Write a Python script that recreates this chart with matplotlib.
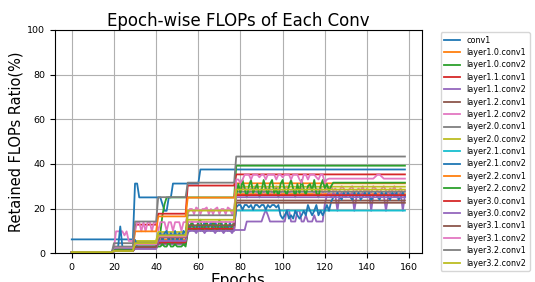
import matplotlib
matplotlib.use("Agg")
import matplotlib.pyplot as plt

# ---------------------------------------------------------------------
# Data: retained FLOPs ratio (%) per conv layer, epochs 0..158
# Each series is written as runs: (value, n_epochs) or an explicit list
# ---------------------------------------------------------------------
N_EPOCHS = 159

layer_names = [
    "conv1",
    "layer1.0.conv1", "layer1.0.conv2",
    "layer1.1.conv1", "layer1.1.conv2",
    "layer1.2.conv1", "layer1.2.conv2",
    "layer2.0.conv1", "layer2.0.conv2",
    "layer2.1.conv1", "layer2.1.conv2",
    "layer2.2.conv1", "layer2.2.conv2",
    "layer3.0.conv1", "layer3.0.conv2",
    "layer3.1.conv1", "layer3.1.conv2",
    "layer3.2.conv1", "layer3.2.conv2",
]

conv1 = [(6.2, 30), (31.2, 2), (25, 11), [22, 19, 19], (25, 2), (31.2, 13), (37.5, 98)]

layer1_0_conv1 = [(0.5, 20), (1.5, 10), (3, 11), (6, 14), (11, 23), (26.5, 81)]

layer1_0_conv2 = [(0.5, 20), (2, 10), (5, 11), [7, 9, 17, 22], (25, 10), (25, 23), (39.2, 81)]

layer1_1_conv1 = [(0.5, 20), (1.2, 10), (12.8, 11), (17.7, 14), (30.3, 23), (35.3, 81)]

layer1_1_conv2 = [
    (0.5, 20), (1, 10), (2, 11), (4, 14),
    [9, 10.4, 11, 10.4, 9, 10.4, 12, 10.4, 9, 10.4, 11, 10.4,
     10.4, 9, 10.4, 12, 10.4, 9, 10.4, 11, 10.4, 9, 10.4],
    (10.4, 5), (14.2, 8), [17, 19.4, 17], (14.2, 8), [19.4, 19.4], (14.2, 3),
    [19, 19], [14.2, 14.2, 17, 14.2, 14.2, 14.2, 17, 14.2, 14.2, 14.2, 14.2],
    [22, 26, 27, 25, 27, 26, 19, 26, 27, 26, 25, 27, 26, 27, 19, 25, 27, 26, 27, 26,
     25, 27, 19, 26, 27, 25, 26, 27, 26, 19, 25, 27, 26, 27, 25, 26, 27, 19, 26],
]

layer1_2_conv1 = [(0.5, 20), (1, 10), (2.2, 11), (4.5, 14), (10.3, 23), (23.6, 81)]

layer1_2_conv2 = [
    (0.5, 20),
    [2, 9.8, 9.8, 9.8, 9.8, 8, 9.8, 5.5, 5.5, 5.5],
    [9.8, 13.9, 13.9, 9.8, 13.9, 9.8, 13.9, 13.9, 9.8, 13.9, 13.9],
    [10, 13.9, 13.9, 13.9, 10, 13.9, 13.9, 10, 13.9, 13.9, 13.9, 10, 13.9, 13.9],
    [17.5, 19.8, 19.8, 17.5, 20.5, 19.8, 17.5, 19.8, 19.8, 20.5, 17.5, 19.8,
     17.5, 19.8, 20.5, 17.5, 19.8, 19.8, 17.5, 20.5, 19.8, 17.5, 19.8],
    [28, 29, 27, 29, 30, 28, 27, 29, 28, 30, 27, 28, 29, 27, 30, 28, 29, 27, 28, 30,
     29, 27, 28, 29, 30, 27, 28, 29, 28, 30, 27, 29, 28, 27, 30, 29, 28, 27, 29, 28,
     30, 27, 28, 29, 27, 30, 28, 29, 27, 28, 30, 29, 27, 28, 29, 30, 27, 28, 29, 28,
     30, 27, 29, 28, 27, 30, 29, 28, 27, 29, 30, 28, 27, 29, 28, 30, 27, 28, 29, 27, 28],
]

layer2_0_conv1 = [(0.5, 20), (4.5, 10), (5, 11), (8.5, 14), (17, 23), (27.5, 81)]

layer2_0_conv2 = [(0.5, 20), (1.5, 10), (5.5, 11), (9.5, 14), (19.1, 23), (29.8, 81)]

layer2_1_conv1 = [(0.5, 20), (1.5, 10), (3, 11), (5.5, 14), (12, 23), (19.1, 81)]

layer2_1_conv2 = [
    (0.5, 20),
    [2, 2, 3, 12, 3, 2, 2, 2, 2, 2],
    [6, 3, 3, 3, 3, 3, 3, 3, 3, 3, 3],
    [5, 9, 5, 9, 10, 5, 9, 5, 10, 5, 9, 5, 10, 9],
    [13.9, 10, 13.9, 12, 10, 13.9, 10, 12, 13.9, 10, 12, 13.9, 10, 13.9, 12, 10,
     13.9, 10, 12, 10, 13.9, 10, 12],
    [20.5, 21.6, 21.6, 19.5, 21.6, 21.6, 20.5, 21.6, 19.5, 21.6, 21.6, 20.5, 21.6,
     21.6, 19.5, 21.6, 20.5, 21.6, 21.6, 20.5, 21.6],
    [17, 15.5, 17, 19, 15.5, 17, 15.5, 19, 17, 15.5, 17, 19, 17],
    [21.6, 19, 17, 19, 21.6, 17, 19, 17, 19, 21.6, 19, 23, 25],
    [25.3, 27, 25.3, 24, 27, 25.3, 27, 25.3, 24, 27, 25.3, 27, 24, 25.3, 27, 25.3, 27,
     24, 25.3, 27, 25.3, 24, 27, 25.3, 27, 25.3, 24, 27, 25.3, 27, 24, 25.3, 27, 25.3],
]

layer2_2_conv1 = [(0.5, 20), (1.5, 10), (9.8, 11), (16.5, 14), (24.9, 23), (31.3, 81)]

layer2_2_conv2 = [
    (0.5, 20), (1.5, 10), (3, 11),
    [3, 3, 4, 3, 3, 5, 3, 3, 4, 3, 3, 3, 4, 3],
    [10, 12, 14, 10, 11, 14, 15, 10, 12, 14, 11, 10, 14, 12, 10, 15, 12, 10, 14, 11,
     10, 12, 14],
    [26, 31, 27, 32.8, 29, 25, 30, 32.8, 27, 29, 31, 25, 28, 32.8, 29, 26, 31, 32.8,
     27, 29, 25, 31, 32.8, 28, 26, 30, 32.8, 29, 25, 31, 27, 32.8, 29, 26, 30, 31, 28,
     32.8, 27, 25, 30, 32.8, 29, 31, 28, 30, 31.6],
    (31.6, 34),
]

layer3_0_conv1 = [(0.5, 20), (1, 10), (2.5, 11), (5, 14), (11, 23), (26, 81)]

layer3_0_conv2 = [(0.5, 20), (1, 10), (2, 11), (5.5, 14), (10, 23), (25.1, 81)]

layer3_1_conv1 = [(0.5, 20), (1.2, 10), (2.8, 11), (7, 14), (12.5, 23), (22.6, 81)]

layer3_1_conv2 = [
    (0.5, 20), (2.5, 10), (4, 11), (7.5, 14), (14, 23),
    [33, 33, 31.5, 33, 35.2, 35.2, 35.2, 33, 35.2, 35.2, 35.2, 34, 35.2, 35.2, 33,
     35.2, 35.2, 35.2, 35.2, 33, 35.2, 35.2, 34, 35.2, 35.2, 35.2, 33, 35.2, 35.2,
     35.2, 33, 31.5, 35.2, 35.2, 33, 35.2, 35.2, 35.2, 34, 33, 35.2, 35.2, 31.5, 33,
     33.4, 33.4, 33.4],
    (33.4, 19), [34.3, 35.2, 35.2, 34.3], (33.4, 11),
]

layer3_2_conv1 = [(0.5, 20), (3, 10), (14.2, 11), (25.1, 14), (31.6, 23), (43.3, 81)]

layer3_2_conv2 = [(0.5, 20), (1, 10), (4.5, 11), (8, 14), (15, 23), (28.5, 81)]

all_series = [
    conv1,
    layer1_0_conv1, layer1_0_conv2,
    layer1_1_conv1, layer1_1_conv2,
    layer1_2_conv1, layer1_2_conv2,
    layer2_0_conv1, layer2_0_conv2,
    layer2_1_conv1, layer2_1_conv2,
    layer2_2_conv1, layer2_2_conv2,
    layer3_0_conv1, layer3_0_conv2,
    layer3_1_conv1, layer3_1_conv2,
    layer3_2_conv1, layer3_2_conv2,
]


def expand(spec):
    """Unroll a run list into one value per epoch."""
    out = []
    for item in spec:
        if isinstance(item, tuple):
            out += [item[0]] * item[1]
        else:
            out += list(item)
    return out[:N_EPOCHS]


# ---------------------------------------------------------------------
# Plot
# ---------------------------------------------------------------------
fig = plt.figure(figsize=(5.35, 2.82), dpi=100)
ax = fig.add_axes([0.103, 0.102, 0.685, 0.792])

for name, spec in zip(layer_names, all_series):
    vals = expand(spec)
    ax.plot(range(len(vals)), vals, lw=1.3, label=name)

ax.set_ylim(0, 100)
ax.set_xticks(range(0, 161, 20))
ax.set_yticks(range(0, 101, 20))
ax.tick_params(labelsize=6.8)
ax.grid(True)
ax.set_title("Epoch-wise FLOPs of Each Conv", fontsize=12, pad=2)
ax.set_xlabel("Epochs", fontsize=11, labelpad=1)
ax.set_ylabel("Retained FLOPs Ratio(%)", fontsize=10.5, labelpad=3)

fig.legend(loc="upper left", bbox_to_anchor=(0.824, 0.885), fontsize=5.8,
           borderaxespad=0, handlelength=2.0, labelspacing=0.42)

fig.savefig("out.png", dpi=100)
